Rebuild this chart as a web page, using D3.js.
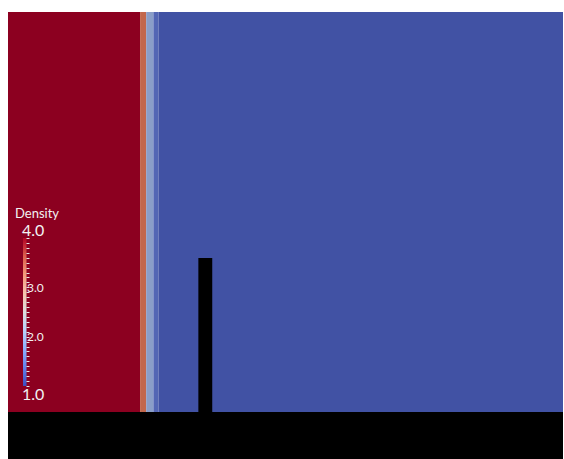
<!DOCTYPE html>
<html>
<head>
    <meta charset="utf-8">
    <script src="https://d3js.org/d3.v7.min.js" charset="utf-8"></script>
    <title>Density</title>
    <style type="text/css">
        body {
            margin: 0;
            background: #fff;
            font-family: "Lato", "DejaVu Sans", sans-serif;
        }
        text {
            fill: #f2f2f2;
        }
    </style>
</head>
<body>

<div id="visContainer"></div>

<script>

// density bands along x (domain 0..1 across the tank)
var bandStart   = [0.000, 0.238, 0.249, 0.262, 0.271];
var bandEnd     = [0.238, 0.249, 0.262, 0.271, 1.000];
var bandDensity = [4.0, 3.2, 2.1, 1.4, 1.0];

// solid parts: obstacle and floor
var solidX0 = [0.343, 0.000];
var solidX1 = [0.368, 1.000];
var solidY0 = [0.000, -0.1175];
var solidY1 = [0.385, 0.000];

// colour legend
var legendTitle = "Density";
var legendRange = [1.0, 4.0];
var legendMajor = [3.0, 2.0];
var legendEnds = [4.0, 1.0];

var width = 564, height = 459;

var svg = d3.select("#visContainer").append("svg")
        .attr("width", width)
        .attr("height", height);

var x = d3.scaleLinear().domain([0, 1]).range([8, 563]);
var y = d3.scaleLinear().domain([-0.1175, 1]).range([459, 12]);

// cool to warm colour map (legend) and the lit surface colours (field)
var coolWarm = d3.scaleLinear()
        .domain([1.0, 1.375, 1.75, 2.125, 2.5, 2.875, 3.25, 3.625, 4.0])
        .range(["#3b4cc0", "#6282ea", "#8db0fe", "#b8d0f9", "#dddddd",
                "#f5c4ad", "#f49a7b", "#de604d", "#b40426"]);

var shaded = d3.scaleLinear()
        .domain([1.0, 1.4, 2.1, 3.2, 4.0])
        .range(["#4152a4", "#5366b4", "#8a9ec8", "#c2674c", "#8c0020"]);

svg.selectAll("rect.band")
        .data(bandDensity)
        .enter().append("rect")
        .classed("band", true)
        .attr("x", function (d, i) { return x(bandStart[i]); })
        .attr("width", function (d, i) { return x(bandEnd[i]) - x(bandStart[i]); })
        .attr("y", y(1))
        .attr("height", y(0) - y(1))
        .attr("fill", function (d) { return shaded(d); });

svg.selectAll("rect.solid")
        .data(solidX0)
        .enter().append("rect")
        .classed("solid", true)
        .attr("x", function (d) { return x(d); })
        .attr("width", function (d, i) { return x(solidX1[i]) - x(d); })
        .attr("y", function (d, i) { return y(solidY1[i]); })
        .attr("height", function (d, i) { return y(solidY0[i]) - y(solidY1[i]); })
        .attr("fill", "#000");

// legend
var cb = d3.scaleLinear().domain(legendRange).range([386, 238]);

var grad = svg.append("defs").append("linearGradient")
        .attr("id", "cbGrad")
        .attr("x1", 0).attr("y1", 1)
        .attr("x2", 0).attr("y2", 0);

grad.selectAll("stop")
        .data(coolWarm.domain())
        .enter().append("stop")
        .attr("offset", function (d) { return (d - 1) / 3; })
        .attr("stop-color", function (d) { return coolWarm(d); });

svg.append("rect")
        .attr("x", 23)
        .attr("y", cb(4))
        .attr("width", 3.5)
        .attr("height", cb(1) - cb(4))
        .attr("fill", "url(#cbGrad)");

var minor = d3.range(1.0, 4.001, 0.1);
svg.selectAll("line.tick")
        .data(minor)
        .enter().append("line")
        .classed("tick", true)
        .attr("x1", 26.5)
        .attr("x2", 29.5)
        .attr("y1", function (d) { return Math.round(cb(d)) + 0.5; })
        .attr("y2", function (d) { return Math.round(cb(d)) + 0.5; })
        .attr("stroke", "#e6e6e6")
        .attr("stroke-width", 1);

svg.selectAll("text.major")
        .data(legendMajor)
        .enter().append("text")
        .classed("major", true)
        .attr("x", 27)
        .attr("y", function (d) { return cb(d); })
        .attr("dy", "0.36em")
        .attr("font-size", 12)
        .text(function (d) { return d.toFixed(1); });

svg.selectAll("text.ends")
        .data(legendEnds)
        .enter().append("text")
        .classed("ends", true)
        .attr("x", 22)
        .attr("y", function (d) { return d === 4 ? cb(d) - 2 : cb(d) + 14; })
        .attr("font-size", 16)
        .text(function (d) { return d.toFixed(1); });

svg.append("text")
        .attr("x", 15)
        .attr("y", 218)
        .attr("font-size", 13)
        .text(legendTitle);

</script>

</body>
</html>
